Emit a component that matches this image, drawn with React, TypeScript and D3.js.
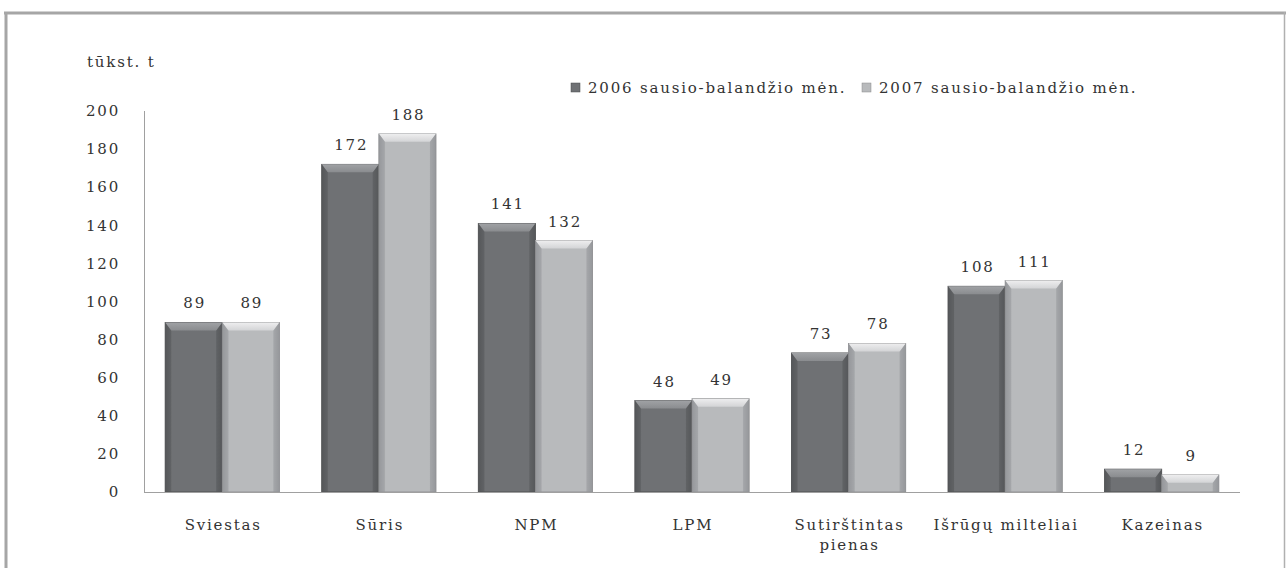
import React from "react";
import * as d3 from "d3";

const categories = ["Sviestas", "Sūris", "NPM", "LPM", "Sutirštintas\npienas", "Išrūgų milteliai", "Kazeinas"];
const series2006 = [89, 172, 141, 48, 73, 108, 12];
const series2007 = [89, 188, 132, 49, 78, 111, 9];
const seriesNames = ["2006 sausio-balandžio mėn.", "2007 sausio-balandžio mėn."];
const yTicks = [0, 20, 40, 60, 80, 100, 120, 140, 160, 180, 200];
const unitLabel = "tūkst. t";

const W = 1286, H = 568;
const FONT = "'DejaVu Serif', 'Liberation Serif', serif";

export default function App() {
  const x = d3.scaleBand<string>().domain(categories).range([144, 1240]).paddingInner(0.27).paddingOuter(0.135);
  const x1 = d3.scaleBand<number>().domain([0, 1]).range([0, x.bandwidth()]);
  const y = d3.scaleLinear().domain([0, 200]).range([492, 111]);
  const series = [series2006, series2007];
  const pal = [
    { edge: "#55575a", mid: "#6f7174", top: "#8a8c8f", hi: "#a0a2a5", stroke: "#4a4b4d" },
    { edge: "#96989b", mid: "#b8babc", top: "#d3d4d6", hi: "#eeeeef", stroke: "#8a8b8d" },
  ];
  const textStyle = { fontFamily: FONT, fontSize: 15, fill: "#333", letterSpacing: 1.8 } as const;

  return (
    <svg width={W} height={H} style={{ position: "absolute", left: 0, top: 0, background: "#fff" }}>
      <defs>
        {pal.map((p, i) => (
          <linearGradient key={i} id={`g${i}`} x1="0" x2="1" y1="0" y2="0">
            <stop offset="0" stopColor={p.edge} />
            <stop offset="0.12" stopColor={p.mid} />
            <stop offset="0.88" stopColor={p.mid} />
            <stop offset="1" stopColor={p.edge} />
          </linearGradient>
        ))}
        {pal.map((p, i) => (
          <linearGradient key={"t" + i} id={`t${i}`} x1="0" x2="0" y1="0" y2="1">
            <stop offset="0" stopColor={p.hi} />
            <stop offset="1" stopColor={p.top} />
          </linearGradient>
        ))}
      </defs>
      {/* frame */}
      <line x1={4} x2={1286} y1={13} y2={13} stroke="#a6a6a6" strokeWidth={3} />
      <line x1={6} x2={6} y1={12} y2={568} stroke="#a6a6a6" strokeWidth={3} />
      <line x1={1284.5} x2={1284.5} y1={12} y2={568} stroke="#b0b0b0" strokeWidth={1.5} />

      <text x={87} y={67} {...textStyle}>{unitLabel}</text>

      {/* y axis */}
      <line x1={144.5} x2={144.5} y1={y(200)} y2={y(0)} stroke="#a0a0a0" />
      {yTicks.map((t) => (
        <text key={t} x={120} y={y(t)} dy="0.35em" textAnchor="end" {...textStyle}>{t}</text>
      ))}

      {/* bars */}
      {categories.map((c, ci) =>
        series.map((s, si) => {
          const bx = (x(c) ?? 0) + (x1(si) ?? 0);
          const bw = x1.bandwidth();
          const by = y(s[ci]);
          const bh = y(0) - by;
          const bev = Math.min(8, bh / 2);
          const p = pal[si];
          return (
            <g key={c + si}>
              <rect x={bx} y={by} width={bw} height={bh} fill={`url(#g${si})`} stroke={p.stroke} strokeWidth={0.8} />
              <path d={`M${bx},${by}L${bx + bw},${by}L${bx + bw - 6},${by + bev}L${bx + 6},${by + bev}Z`} fill={`url(#t${si})`} />
              <path d={`M${bx},${by}L${bx + 6},${by + bev}L${bx + 6},${y(0)}L${bx},${y(0)}Z`} fill={p.edge} opacity={0.5} />
              <path d={`M${bx + bw},${by}L${bx + bw - 6},${by + bev}L${bx + bw - 6},${y(0)}L${bx + bw},${y(0)}Z`} fill={p.edge} opacity={0.5} />
              <text x={bx + bw / 2 + 1} y={by - 14} textAnchor="middle" {...textStyle}>{s[ci]}</text>
            </g>
          );
        })
      )}

      {/* x axis */}
      <line x1={144} x2={1240} y1={492.5} y2={492.5} stroke="#a0a0a0" />
      {categories.map((c) => (
        <text key={c} x={(x(c) ?? 0) + x.bandwidth() / 2} y={530} textAnchor="middle" {...textStyle}>
          {c.split("\n").map((l, i) => (
            <tspan key={i} x={(x(c) ?? 0) + x.bandwidth() / 2 + 1} dy={i === 0 ? 0 : 20}>{l}</tspan>
          ))}
        </text>
      ))}

      {/* legend */}
      {seriesNames.map((n, i) => {
        const lx = [571, 862][i];
        return (
          <g key={n}>
            <rect x={lx} y={83} width={9} height={9} fill={pal[i].mid} stroke={pal[i].stroke} strokeWidth={0.5} />
            <text x={lx + 17} y={93} {...textStyle}>{n}</text>
          </g>
        );
      })}
    </svg>
  );
}
